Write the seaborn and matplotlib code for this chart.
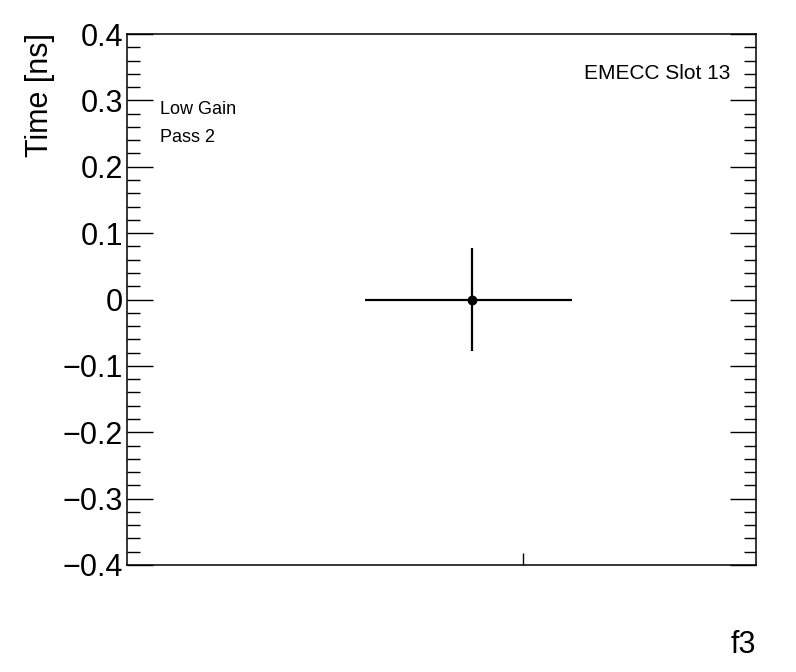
import matplotlib
matplotlib.use("Agg")
import matplotlib.pyplot as plt
import seaborn as sns
import numpy as np
import pandas as pd
from matplotlib.ticker import MultipleLocator, FixedLocator, NullFormatter

# data
x_pos = [1.675]
time_ns = [0.0]
x_err_low = [0.519]
x_err_high = [0.485]
time_err = [0.078]
x_tick = [1.922]
y_ticks = [-0.4, -0.3, -0.2, -0.1, 0.0, 0.1, 0.2, 0.3, 0.4]
y_tick_labels = ["\u22120.4", "\u22120.3", "\u22120.2", "\u22120.1", "0", "0.1", "0.2", "0.3", "0.4"]

sns.set_theme(style="white")
plt.rcParams['font.family'] = ['Liberation Sans', 'DejaVu Sans']
plt.rcParams['text.color'] = 'black'
plt.rcParams['axes.labelcolor'] = 'black'
plt.rcParams['xtick.color'] = 'black'
plt.rcParams['ytick.color'] = 'black'

fig = plt.figure(figsize=(7.96, 6.72), dpi=100)
ax = fig.add_axes([127/796, 1-565/672, (756-127)/796, (565-34)/672])

df = pd.DataFrame({"x": x_pos, "t": time_ns})
ax.errorbar(x_pos, time_ns, xerr=[x_err_low, x_err_high], yerr=time_err, fmt="none",
            ecolor="black", elinewidth=1.6, capsize=0, zorder=2)
sns.scatterplot(data=df, x="x", y="t", ax=ax, color="black", s=50,
                edgecolor="black", linewidth=0, zorder=3, legend=False)

ax.set_xlim(0, 3.053)
ax.set_ylim(-0.4, 0.4)
for s in ax.spines.values():
    s.set_color("black")
    s.set_linewidth(1.1)

ax.yaxis.set_major_locator(FixedLocator(y_ticks))
ax.set_yticklabels(y_tick_labels)
ax.yaxis.set_minor_locator(MultipleLocator(0.02))
ax.tick_params(axis="y", which="major", direction="in", length=19, width=1.0,
               left=True, right=True, labelsize=22, pad=3, labelcolor="black")
ax.tick_params(axis="y", which="minor", direction="in", length=9, width=1.0,
               left=True, right=True)
ax.xaxis.set_major_locator(FixedLocator(x_tick))
ax.xaxis.set_major_formatter(NullFormatter())
ax.tick_params(axis="x", which="major", direction="in", length=9, width=1.0,
               bottom=True, top=False)
ax.set_xlabel("")
ax.set_ylabel("")
fig.text(40/796, 1-33/672, "Time [ns]", fontsize=22, rotation=90,
         ha="center", va="top", color="black")

ax.text(0.052, 0.858, "Low Gain", transform=ax.transAxes, fontsize=13, va="center", ha="left", color="black")
ax.text(0.052, 0.805, "Pass 2", transform=ax.transAxes, fontsize=13, va="center", ha="left", color="black")
ax.text(0.959, 0.926, "EMECC Slot 13", transform=ax.transAxes, fontsize=15, va="center", ha="right", color="black")

fig.text(756/796, 1-645/672, "f3", fontsize=22, ha="right", va="center", color="black")

fig.savefig("out.png", dpi=100, facecolor="white")
